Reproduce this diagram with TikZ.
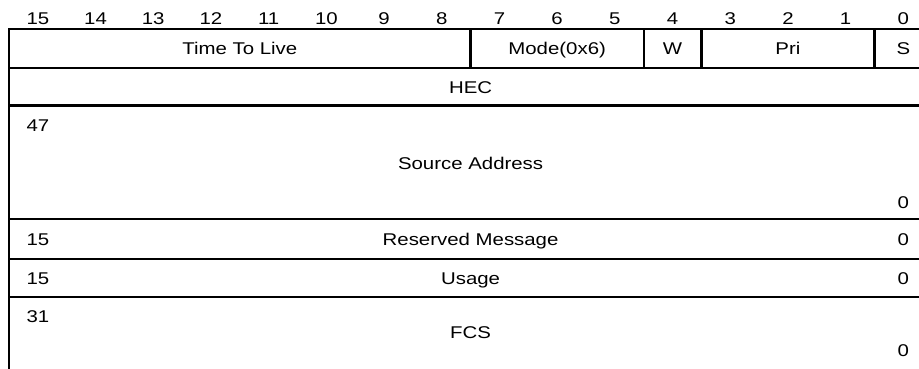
\documentclass[tikz,border=0pt]{standalone}
\usepackage{fontspec}
\setmainfont{Liberation Sans}[FakeStretch=1.2]
\begin{document}
\begin{tikzpicture}[x=1pt,y=-1pt,
  font=\fontsize{17}{20}\selectfont,
  rule/.style={line width=2.3pt},
  heavyrule/.style={line width=3pt},
  lbl/.style={inner sep=0pt,text height=12.2pt,text depth=0pt,anchor=center}]
\useasboundingbox (0,0) rectangle (919,368);
\clip (0,0) rectangle (919,368);
% origin of the register and width of one bit
\def\xo{9}
\def\bw{57.7}
\pgfmathsetmacro{\xr}{\xo+16*\bw}

% bit numbers along the top
\foreach \b in {0,...,15}
  \node[lbl] (bit\b) at ({\xo+(15-\b+0.5)*\bw},18.2) {\b};

% outer frame (the bottom edge runs past the page)
\draw[rule] (\xo,380) -- (\xo,29) -- (\xr,29) -- (\xr,380);
% row separators
\foreach \yy in {68,219,259,297}
  \draw[rule] (\xo,\yy) -- (\xr,\yy);
\draw[heavyrule] (\xo,105.5) -- (\xr,105.5);
% field separators of the first word
\foreach \k in {8,11,12,15}
  \draw[rule] ({\xo+\k*\bw},29) -- ({\xo+\k*\bw},68);

% first word
\node[lbl] (ttl)  at ({\xo+4*\bw},48.6)    {Time To Live};
\node[lbl] (mode) at ({\xo+9.5*\bw},48.6)  {Mode(0x6)};
\node[lbl] (wbit) at ({\xo+11.5*\bw},48.6) {W};
\node[lbl] (pri)  at ({\xo+13.5*\bw},48.6) {Pri};
\node[lbl] (sbit) at ({\xo+15.5*\bw},48.6) {S};

% header error check
\node[lbl] (hec) at ({\xo+8*\bw},87) {HEC};

% source address
\node[lbl] (srchi) at ({\xo+0.5*\bw},125)  {47};
\node[lbl] (src)   at ({\xo+8*\bw},163)    {Source Address};
\node[lbl] (srclo) at ({\xo+15.5*\bw},202) {0};

% reserved message
\node[lbl] (reshi) at ({\xo+0.5*\bw},239)  {15};
\node[lbl] (res)   at ({\xo+8*\bw},239)    {Reserved Message};
\node[lbl] (reslo) at ({\xo+15.5*\bw},239) {0};

% usage
\node[lbl] (usehi) at ({\xo+0.5*\bw},278)  {15};
\node[lbl] (use)   at ({\xo+8*\bw},278)    {Usage};
\node[lbl] (uselo) at ({\xo+15.5*\bw},278) {0};

% frame check sequence
\node[lbl] (fcshi) at ({\xo+0.5*\bw},316)  {31};
\node[lbl] (fcs)   at ({\xo+8*\bw},332)    {FCS};
\node[lbl] (fcslo) at ({\xo+15.5*\bw},350) {0};
\end{tikzpicture}
\end{document}
